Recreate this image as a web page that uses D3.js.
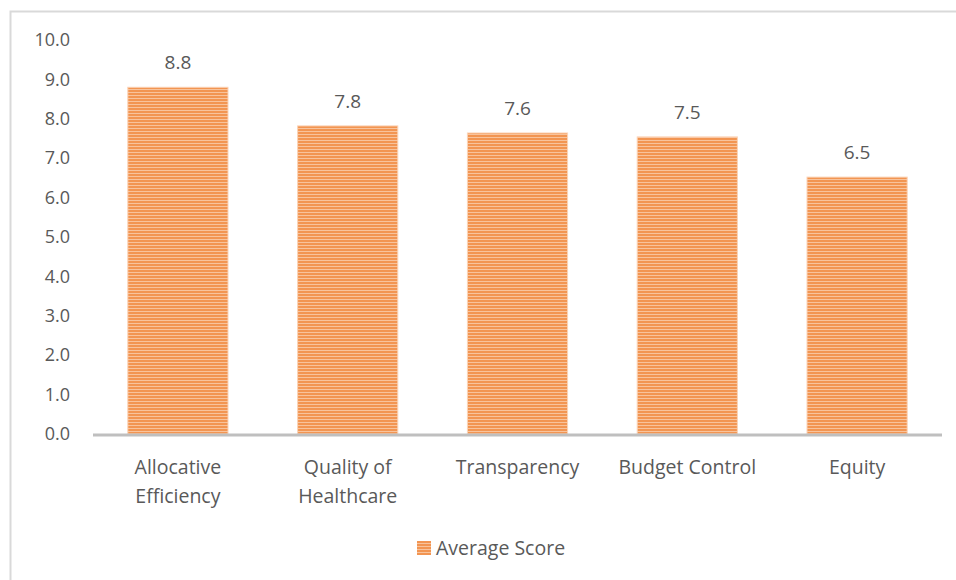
<!DOCTYPE html>
<html>
<head>
<meta charset="utf-8">
<script src="https://cdn.jsdelivr.net/npm/d3@7"></script>
<style>
  body { margin: 0; background: #fff; }
  svg text { font-family: "Open Sans", sans-serif; fill: #595959; }
</style>
</head>
<body>
<div id="chart"></div>
<script>
const width = 956;
const height = 580;

const categories = ["Allocative Efficiency", "Quality of Healthcare", "Transparency", "Budget Control", "Equity"];
const labelLines = [["Allocative", "Efficiency"], ["Quality of", "Healthcare"], ["Transparency"], ["Budget Control"], ["Equity"]];
const scores = [8.8, 7.82, 7.64, 7.54, 6.52];
const yTicks = [0, 1, 2, 3, 4, 5, 6, 7, 8, 9, 10];
const seriesName = "Average Score";

const margin = { top: 40, right: 14, bottom: 146, left: 93 };

const svg = d3.select("#chart").append("svg")
    .attr("width", width)
    .attr("height", height);

// striped orange fill
const defs = svg.append("defs");
const pat = defs.append("pattern")
    .attr("id", "stripes")
    .attr("patternUnits", "userSpaceOnUse")
    .attr("width", 8)
    .attr("height", 3);
pat.append("rect").attr("width", 8).attr("height", 3).attr("fill", "#f29552");
pat.append("rect").attr("y", 2).attr("width", 8).attr("height", 1).attr("fill", "#f8c39c");

// outer border
svg.append("rect")
    .attr("x", 10.5).attr("y", 11.5)
    .attr("width", width).attr("height", height)
    .attr("fill", "none")
    .attr("stroke", "#d9d9d9")
    .attr("stroke-width", 2);

const x = d3.scaleBand()
    .domain(categories)
    .range([margin.left, width - margin.right])
    .paddingInner(0.41)
    .paddingOuter(0.205);

const y = d3.scaleLinear()
    .domain([0, 10])
    .range([height - margin.bottom, margin.top]);

const y0 = y(0);

// y axis labels
const yAxis = svg.append("g")
    .attr("transform", `translate(${margin.left},0)`)
    .call(d3.axisLeft(y).tickValues(yTicks).tickFormat(d3.format(".1f")).tickSize(0).tickPadding(23));
yAxis.select(".domain").remove();
yAxis.selectAll("text").attr("font-size", 18).attr("fill", "#595959").style("font-family", "Open Sans");

// bars
svg.selectAll(".bar")
    .data(categories)
    .enter()
    .append("rect")
    .attr("class", "bar")
    .attr("x", d => x(d))
    .attr("y", (d, i) => y(scores[i]))
    .attr("width", x.bandwidth())
    .attr("height", (d, i) => y0 - y(scores[i]))
    .attr("fill", "url(#stripes)")
    .attr("stroke", "#fbd3b6")
    .attr("stroke-width", 1);

// baseline
svg.append("line")
    .attr("x1", margin.left).attr("x2", width - margin.right)
    .attr("y1", y0 + 1).attr("y2", y0 + 1)
    .attr("stroke", "#bfbfbf")
    .attr("stroke-width", 3);

// value labels
svg.selectAll(".val")
    .data(categories)
    .enter()
    .append("text")
    .attr("class", "val")
    .attr("x", d => x(d) + x.bandwidth() / 2)
    .attr("y", (d, i) => y(scores[i]) - 18)
    .attr("text-anchor", "middle")
    .attr("font-size", 19)
    .text((d, i) => d3.format(".1f")(scores[i]));

// category labels
const cat = svg.selectAll(".cat")
    .data(categories)
    .enter()
    .append("text")
    .attr("class", "cat")
    .attr("x", d => x(d) + x.bandwidth() / 2)
    .attr("y", y0 + 40)
    .attr("text-anchor", "middle")
    .attr("font-size", 19.5);
cat.selectAll("tspan")
    .data((d, i) => labelLines[i])
    .enter()
    .append("tspan")
    .attr("x", function() { return this.parentNode.getAttribute("x"); })
    .attr("dy", (d, i) => i === 0 ? 0 : 29)
    .text(d => d);

// legend
const legend = svg.append("g").attr("transform", "translate(417,541)");
legend.append("rect")
    .attr("width", 14).attr("height", 14)
    .attr("fill", "url(#stripes)");
legend.append("text")
    .attr("x", 19).attr("y", 14)
    .attr("font-size", 19.5)
    .text(seriesName);
</script>
</body>
</html>
